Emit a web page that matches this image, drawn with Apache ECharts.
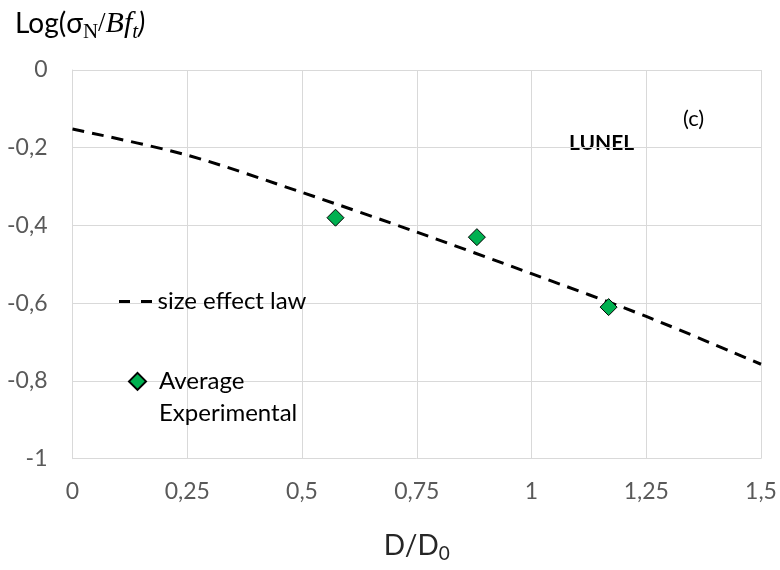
<!DOCTYPE html>
<html>
<head>
<meta charset="utf-8">
<script src="https://cdn.jsdelivr.net/npm/echarts@6/dist/echarts.min.js"></script>
<style>
html,body{margin:0;padding:0;background:#fff;}
#chart{width:780px;height:570px;}
</style>
</head>
<body>
<div id="chart"></div>
<script>
// ---- data ----
const lawX = [0, 0.25, 0.5, 0.75, 1.0, 1.25, 1.5];
const lawY = [-0.152, -0.219, -0.315, -0.417, -0.524, -0.634, -0.757];
const expX = [0.573, 0.881, 1.168];
const expY = [-0.380, -0.430, -0.610];
const xTicks = ['0', '0,25', '0,5', '0,75', '1', '1,25', '1,5'];
const yTicks = ['-1', '-0,8', '-0,6', '-0,4', '-0,2', '0'];
const lawName = 'size effect law';
const expName = 'Average Experimental';

const FONT = 'Lato';
const chart = echarts.init(document.getElementById('chart'), null, {renderer: 'canvas'});

const lawData = lawX.map((x, i) => [x, lawY[i]]);
const expData = expX.map((x, i) => [x, expY[i]]);

const option = {
  animation: false,
  backgroundColor: '#ffffff',
  title: {
    left: 15,
    top: 5,
    padding: 0,
    text: '{a|Log(σ}{n|N}{s|/}{b|Bf}{t|t}{p|)}',
    textStyle: {
      fontWeight: 'normal',
      rich: {
        a: {fontFamily: FONT, fontWeight: 'normal', fontSize: 28, color: '#000', lineHeight: 38},
        n: {fontFamily: 'Liberation Serif', fontWeight: 'normal', fontSize: 21, color: '#000', verticalAlign: 'bottom', lineHeight: 18},
        s: {fontFamily: 'Liberation Serif', fontWeight: 'normal', fontSize: 27, color: '#000', lineHeight: 38},
        b: {fontFamily: 'Liberation Serif', fontWeight: 'normal', fontStyle: 'italic', fontSize: 30, color: '#000', lineHeight: 38},
        t: {fontFamily: 'Liberation Serif', fontWeight: 'normal', fontStyle: 'italic', fontSize: 21, color: '#000', verticalAlign: 'bottom', lineHeight: 18},
        p: {fontFamily: FONT, fontWeight: 'normal', fontStyle: 'italic', fontSize: 28, color: '#000', lineHeight: 38}
      }
    }
  },
  grid: {left: 72.5, right: 19, top: 70, bottom: 111.3, containLabel: false},
  xAxis: {
    type: 'value',
    min: 0, max: 1.5, interval: 0.25,
    name: '{d|D/D}{z|0}',
    nameLocation: 'middle',
    nameGap: 69,
    nameTextStyle: {
      rich: {
        d: {fontFamily: FONT, fontSize: 28, color: '#262626', lineHeight: 36},
        z: {fontFamily: FONT, fontSize: 19, color: '#262626', verticalAlign: 'bottom', lineHeight: 20}
      }
    },
    axisLine: {show: true, lineStyle: {color: '#d9d9d9', width: 1}},
    axisTick: {show: false},
    axisLabel: {
      margin: 21,
      fontFamily: FONT, fontSize: 23, color: '#595959',
      formatter: (v) => xTicks[Math.round(v / 0.25)]
    },
    splitLine: {show: true, lineStyle: {color: '#d9d9d9', width: 1}}
  },
  yAxis: {
    type: 'value',
    min: -1, max: 0, interval: 0.2,
    axisLine: {show: true, lineStyle: {color: '#d9d9d9', width: 1}},
    axisTick: {show: false},
    axisLabel: {
      margin: 25,
      fontFamily: FONT, fontSize: 23, color: '#595959',
      formatter: (v) => yTicks[Math.round((v + 1) / 0.2)]
    },
    splitLine: {show: true, lineStyle: {color: '#d9d9d9', width: 1}}
  },
  legend: [
    {
      data: [{name: lawName, icon: 'path://M0,0H11V3H0Z M22,0H33V3H22Z'}],
      left: 119, top: 287,
      padding: 0,
      itemWidth: 34, itemHeight: 3,
      itemStyle: {color: '#000', borderWidth: 0},
      textStyle: {fontFamily: FONT, fontSize: 24, color: '#000', lineHeight: 29}
    },
    {
      data: [expName],
      left: 128, top: 334,
      padding: 0,
      itemWidth: 17, itemHeight: 17,
      formatter: () => ' \n{g| }Average\n{g| }Experimental',
      textStyle: {
        fontFamily: FONT, fontSize: 24, color: '#000', lineHeight: 31.6,
        rich: {g: {width: 8, fontSize: 24, lineHeight: 31.6}}
      }
    }
  ],
  graphic: [
    {type: 'text', left: 569, top: 133, style: {text: 'LUNEL', fontFamily: FONT, fontWeight: 'bold', fontSize: 21, fill: '#000'}},
    {type: 'text', left: 683, top: 108, style: {text: '(c)', fontFamily: FONT, fontSize: 22, fill: '#000'}}
  ],
  series: [
    {
      name: lawName,
      type: 'line',
      data: lawData,
      smooth: 0.3,
      symbol: 'none',
      lineStyle: {color: '#000', width: 3, type: [12, 8]},
      itemStyle: {color: '#000'},
      z: 2
    },
    {
      name: expName,
      type: 'scatter',
      data: expData,
      symbol: 'diamond',
      symbolSize: 17,
      itemStyle: {color: '#00b050', borderColor: '#000', borderWidth: 1, opacity: 1},
      z: 3
    }
  ]
};
chart.setOption(option);
</script>
</body>
</html>
